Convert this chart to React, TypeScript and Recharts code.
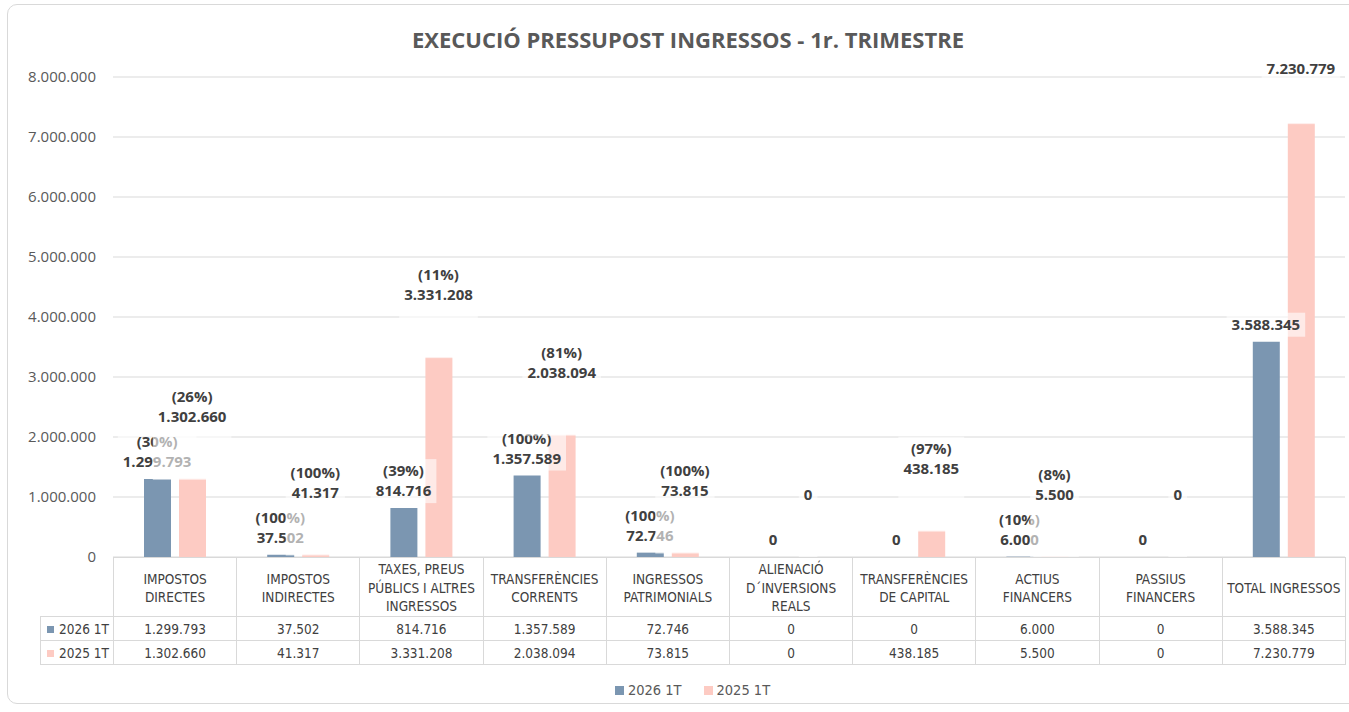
import { ComposedChart, Bar, Line, XAxis, YAxis, CartesianGrid, LabelList } from "recharts";

const categories = [
  ["IMPOSTOS", "DIRECTES"],
  ["IMPOSTOS", "INDIRECTES"],
  ["TAXES, PREUS", "PÚBLICS I ALTRES", "INGRESSOS"],
  ["TRANSFERÈNCIES", "CORRENTS"],
  ["INGRESSOS", "PATRIMONIALS"],
  ["ALIENACIÓ", "D´INVERSIONS", "REALS"],
  ["TRANSFERÈNCIES", "DE CAPITAL"],
  ["ACTIUS", "FINANCERS"],
  ["PASSIUS", "FINANCERS"],
  ["TOTAL INGRESSOS"],
];
const values2026 = [1299793, 37502, 814716, 1357589, 72746, 0, 0, 6000, 0, 3588345];
const values2025 = [1302660, 41317, 3331208, 2038094, 73815, 0, 438185, 5500, 0, 7230779];
const pct2026 = [30, 100, 39, 100, 100, null, null, 10, null, null];
const pct2025 = [26, 100, 11, 81, 100, null, 97, 8, null, null];
const yTicks = [0, 1000000, 2000000, 3000000, 4000000, 5000000, 6000000, 7000000, 8000000];

const BLUE = "#7b96b1";
const PINK = "#fdcbc3";
const GRID = "#d9d9d9";
const TEXT = "#595959";
const DARK = "#404040";
const BAR_W = 27;
const BAR_GAP = 8;
const TABLE_FONT = "'DejaVu Sans Condensed', 'DejaVu Sans', sans-serif";

const fmt = (v: number) => String(v).replace(/\B(?=(\d{3})+(?!\d))/g, ".");

const data = categories.map((c, i) => ({
  name: c.join(" "),
  s2026: values2026[i],
  s2025: values2025[i],
}));

// rough width of bold 15px Open Sans
const textW = (s: string) =>
  s.split("").reduce((w, c) => w + (/[0-9]/.test(c) ? 8.6 : c === "." ? 4.2 : c === "%" ? 13 : 5.2), 0);

// labels hang off invisible line points (band centre), shifted onto each bar
const makeLabel = (pcts: (number | null)[], dx: number, lift: number, tallBox: boolean) => (props: any) => {
  const { x, y, index, value } = props;
  const cx = x + dx;
  const pct = pcts[index];
  const lines = pct != null ? [`(${pct}%)`, fmt(value)] : [fmt(value)];
  let last = y - 18 - lift;
  let first = last - (lines.length - 1) * 20;
  if (first < 68) {
    last += 68 - first;
    first = 68;
  }
  const w = Math.max(...lines.map(textW));
  const boxTop = first - 11;
  const boxBottom = tallBox ? Math.max(y + 1, last + 13) : last + 13;
  return (
    <g>
      <rect x={cx - w / 2 - 5} y={boxTop} width={w + 10} height={boxBottom - boxTop} fill="#fff" fillOpacity={0.6} />
      {lines.map((l, k) => (
        <text
          key={k}
          x={cx}
          y={first + k * 20}
          textAnchor="middle"
          dominantBaseline="central"
          fontFamily="Open Sans, sans-serif"
          fontWeight={700}
          fontSize={15}
          fill={DARK}
        >
          {l}
        </text>
      ))}
    </g>
  );
};

const colW = 123.2;
const cell = { border: `1px solid ${GRID}`, padding: 0 };

export default function App() {
  return (
    <div style={{ position: "absolute", left: 0, top: 0, width: 1349, height: 712, overflow: "hidden", background: "#fff" }}>
      <div
        style={{
          position: "absolute",
          left: 7,
          top: 4,
          width: 1360,
          height: 698,
          border: `1px solid ${GRID}`,
          borderRadius: 10,
        }}
      />
      <div
        style={{
          position: "absolute",
          left: 0,
          top: 24,
          width: 1376,
          textAlign: "center",
          fontFamily: "Open Sans, sans-serif",
          fontWeight: 700,
          fontSize: 22,
          color: TEXT,
        }}
      >
        EXECUCIÓ PRESSUPOST INGRESSOS - 1r. TRIMESTRE
      </div>
      <div style={{ position: "absolute", left: 0, top: 0 }}>
        <ComposedChart
          width={1349}
          height={712}
          data={data}
          margin={{ top: 77, right: 4, bottom: 155, left: 13 }}
          barSize={BAR_W}
          barGap={BAR_GAP}
        >
          <CartesianGrid vertical={false} stroke={GRID} />
          <XAxis dataKey="name" hide />
          <YAxis
            width={100}
            domain={[0, 8000000]}
            ticks={yTicks}
            tickFormatter={fmt}
            axisLine={false}
            tickLine={false}
            tickMargin={11}
            tick={{ fill: TEXT, fontSize: 15, fontFamily: "Open Sans, sans-serif" }}
          />
          <Bar dataKey="s2026" name="2026 1T" fill={BLUE} isAnimationActive={false} />
          <Bar dataKey="s2025" name="2025 1T" fill={PINK} isAnimationActive={false} />
          <Line dataKey="s2026" stroke="transparent" dot={false} activeDot={false} legendType="none" isAnimationActive={false}>
            <LabelList dataKey="s2026" content={makeLabel(pct2026, -(BAR_W + BAR_GAP) / 2, 0, false)} />
          </Line>
          <Line dataKey="s2025" stroke="transparent" dot={false} activeDot={false} legendType="none" isAnimationActive={false}>
            <LabelList dataKey="s2025" content={makeLabel(pct2025, (BAR_W + BAR_GAP) / 2, 45, true)} />
          </Line>
        </ComposedChart>
      </div>
      <table
        style={{
          position: "absolute",
          left: 40,
          top: 557,
          width: 73 + colW * 10,
          borderCollapse: "collapse",
          tableLayout: "fixed",
          fontFamily: TABLE_FONT,
          fontStretch: "condensed",
          fontSize: 13.5,
          color: DARK,
          textAlign: "center",
        }}
      >
        <colgroup>
          <col style={{ width: 73 }} />
          {categories.map((_, i) => (
            <col key={i} style={{ width: colW }} />
          ))}
        </colgroup>
        <tbody>
          <tr style={{ height: 59 }}>
            <td style={{ padding: 0 }} />
            {categories.map((c, i) => (
              <td key={i} style={{ ...cell, paddingTop: 2, lineHeight: "18.5px" }}>
                {c.map((l, k) => (
                  <div key={k}>{l}</div>
                ))}
              </td>
            ))}
          </tr>
          {[
            { label: "2026 1T", color: BLUE, vals: values2026 },
            { label: "2025 1T", color: PINK, vals: values2025 },
          ].map((r) => (
            <tr key={r.label} style={{ height: 24 }}>
              <td style={{ ...cell, textAlign: "left", paddingLeft: 6, whiteSpace: "nowrap" }}>
                <span style={{ display: "inline-block", width: 7, height: 7, background: r.color, marginRight: 5, marginBottom: 1 }} />
                {r.label}
              </td>
              {r.vals.map((v, i) => (
                <td key={i} style={cell}>
                  {fmt(v)}
                </td>
              ))}
            </tr>
          ))}
        </tbody>
      </table>
      <div
        style={{
          position: "absolute",
          left: 40,
          top: 682,
          width: 1305,
          display: "flex",
          justifyContent: "center",
          gap: 22,
          fontFamily: TABLE_FONT,
          fontStretch: "condensed",
          fontSize: 14.5,
          color: TEXT,
        }}
      >
        {[
          { label: "2026 1T", color: BLUE },
          { label: "2025 1T", color: PINK },
        ].map((l) => (
          <span key={l.label} style={{ display: "flex", alignItems: "center" }}>
            <span style={{ display: "inline-block", width: 9, height: 9, background: l.color, marginRight: 4 }} />
            {l.label}
          </span>
        ))}
      </div>
    </div>
  );
}
